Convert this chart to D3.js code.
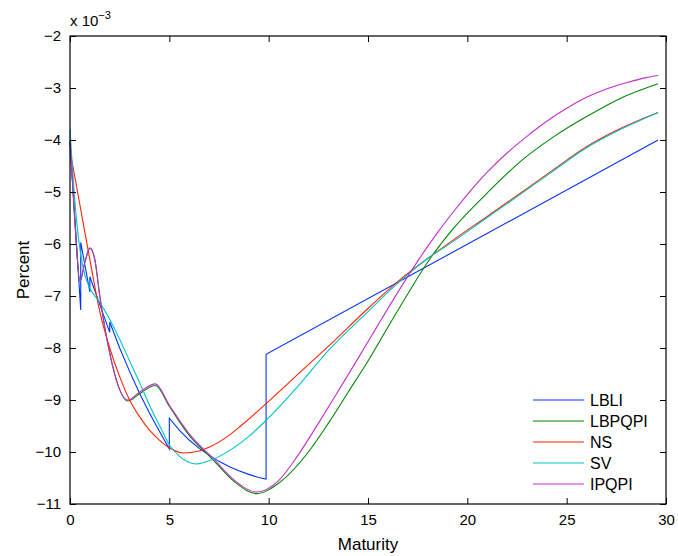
<!DOCTYPE html>
<html lang="en">
<head>
  <meta charset="UTF-8">
  <title>Maturity vs Percent</title>
  <script src="https://d3js.org/d3.v7.min.js"></script>
  <style>
    body {
      margin: 0;
      padding: 0;
      background: #fff;
      font-family: "Liberation Sans", Arial, sans-serif;
    }
    .tick text {
      font-size: 15px;
      fill: #000;
    }
    .lbl {
      font-size: 16px;
      fill: #000;
    }
  </style>
</head>
<body>
  <div id="chart"></div>

  <script>
  // values are in units of 1e-3 (as on the axis)
  const xTicks = [0, 5, 10, 15, 20, 25, 30];
  const yTicks = [-11, -10, -9, -8, -7, -6, -5, -4, -3, -2];

  const lbliT = [0, 0.54, 0.54, 1.0, 1.0, 2.0, 2.0, 2.5, 3.0, 3.5, 4.0, 4.5, 5.0, 5.0, 5.5, 6.0, 6.5, 7.0, 7.5, 8.0, 8.5, 9.0, 9.5, 9.87, 9.87, 29.6];
  const lbliV = [-4.05, -7.27, -5.97, -6.92, -6.63, -7.7, -7.5, -8.0, -8.45, -8.87, -9.25, -9.6, -9.94, -9.35, -9.58, -9.77, -9.93, -10.06, -10.18, -10.28, -10.36, -10.43, -10.49, -10.52, -8.12, -4.0];

  const ipqpiT = [0, 0.25, 0.5, 0.75, 1.0, 1.25, 1.5, 2.0, 2.5, 2.9, 3.5, 4.3, 5.0, 6.0, 7.2, 8.3, 9.4, 10.5, 11.5, 12.5, 13.5, 14.5, 15.5, 16.5, 17.5, 18.5, 19.3, 20, 21, 22, 23, 24, 25, 26, 27, 28, 29, 29.6];
  const ipqpiV = [-4.0, -5.6, -6.72, -6.35, -6.08, -6.3, -7.0, -8.1, -8.8, -9.0, -8.85, -8.69, -9.1, -9.65, -10.12, -10.55, -10.77, -10.55, -10.05, -9.45, -8.83, -8.2, -7.56, -6.93, -6.33, -5.78, -5.38, -5.05, -4.62, -4.25, -3.93, -3.64, -3.39, -3.18, -3.02, -2.9, -2.8, -2.76];

  const lbpqpiT = [0, 0.25, 0.5, 0.75, 1.0, 1.25, 1.5, 2.0, 2.5, 2.9, 3.5, 4.3, 5.0, 6.0, 7.2, 8.3, 9.4, 10.5, 12, 13, 14, 15, 16, 17, 18, 19.3, 21, 22.65, 24.3, 26, 27.7, 29.6];
  const lbpqpiV = [-4.0, -5.6, -6.72, -6.35, -6.08, -6.3, -7.0, -8.1, -8.8, -9.02, -8.88, -8.72, -9.12, -9.68, -10.15, -10.58, -10.8, -10.6, -10.0, -9.45, -8.85, -8.25, -7.6, -6.96, -6.35, -5.7, -5.02, -4.42, -3.95, -3.55, -3.2, -2.92];

  const nsT = [0, 0.5, 1, 1.5, 2, 2.5, 3, 3.5, 4, 4.5, 5, 5.7, 6.5, 7.05, 8, 8.56, 9.9, 11.6, 13, 15, 16.6, 18, 19.3, 21, 22.65, 24.3, 26, 27.7, 29.6];
  const nsV = [-4.2, -5.25, -6.3, -7.3, -8.0, -8.55, -9.0, -9.32, -9.58, -9.77, -9.92, -10.02, -9.98, -9.9, -9.68, -9.51, -9.06, -8.46, -7.97, -7.24, -6.69, -6.28, -5.92, -5.47, -5.03, -4.58, -4.13, -3.78, -3.47];

  const svT = [0, 0.25, 0.5, 0.75, 1, 1.5, 2, 2.5, 3, 3.52, 4, 4.53, 5.03, 5.5, 6.37, 7.2, 8.2, 9, 9.9, 11.6, 13, 15, 16.6, 18, 19.3, 21, 22.65, 24.3, 26, 27.7, 29.6];
  const svV = [-3.8, -5.2, -6.1, -6.6, -6.85, -7.12, -7.45, -7.83, -8.25, -8.68, -9.1, -9.51, -9.88, -10.08, -10.23, -10.14, -9.93, -9.7, -9.38, -8.68, -8.05, -7.3, -6.72, -6.28, -5.95, -5.49, -5.05, -4.6, -4.15, -3.8, -3.47];

  const seriesNames = ["LBLI", "LBPQPI", "NS", "SV", "IPQPI"];
  const seriesColors = ["#0033ff", "#008800", "#ff2200", "#00c4c4", "#c030c8"];

  const series = [
    { name: "LBLI", t: lbliT, v: lbliV, curve: d3.curveLinear },
    { name: "LBPQPI", t: lbpqpiT, v: lbpqpiV, curve: d3.curveMonotoneX },
    { name: "NS", t: nsT, v: nsV, curve: d3.curveMonotoneX },
    { name: "SV", t: svT, v: svV, curve: d3.curveMonotoneX },
    { name: "IPQPI", t: ipqpiT, v: ipqpiV, curve: d3.curveMonotoneX }
  ];

  const width = 678, height = 556;
  const margin = { left: 70, right: 12, top: 36, bottom: 52 };
  const svg = d3.select("#chart").append("svg")
    .attr("width", width).attr("height", height);

  const x = d3.scaleLinear().domain([0, 30]).range([margin.left, width - margin.right]);
  const y = d3.scaleLinear().domain([-11, -2]).range([height - margin.bottom, margin.top]);

  // plot lines (drawn first, box on top)
  const line = d3.line().x(d => x(d[0])).y(d => y(d[1]));
  seriesNames.forEach((nm, k) => {
    const s = series.find(e => e.name === nm);
    const pts = s.t.map((t, i) => [t, s.v[i]]);
    svg.append("path")
      .datum(pts)
      .attr("fill", "none")
      .attr("stroke", seriesColors[k])
      .attr("stroke-width", 1.1)
      .attr("d", line.curve(s.curve));
  });

  // axes, MATLAB style: ticks inward on all four sides
  const tl = 6;
  svg.append("g")
    .attr("transform", `translate(0,${y(-11)})`)
    .call(d3.axisBottom(x).tickValues(xTicks).tickSize(-tl).tickPadding(10).tickFormat(d3.format("d")))
    .call(g => g.select(".domain").remove());
  svg.append("g")
    .attr("transform", `translate(0,${y(-2)})`)
    .call(d3.axisTop(x).tickValues(xTicks).tickSize(-tl).tickFormat(""))
    .call(g => g.select(".domain").remove());
  svg.append("g")
    .attr("transform", `translate(${x(0)},0)`)
    .call(d3.axisLeft(y).tickValues(yTicks).tickSize(-tl).tickPadding(9).tickFormat(d3.format("d")))
    .call(g => g.select(".domain").remove());
  svg.append("g")
    .attr("transform", `translate(${x(30)},0)`)
    .call(d3.axisRight(y).tickValues(yTicks).tickSize(-tl).tickFormat(""))
    .call(g => g.select(".domain").remove());

  svg.selectAll(".tick line").attr("stroke", "#000");

  svg.append("rect")
    .attr("x", x(0)).attr("y", y(-2))
    .attr("width", x(30) - x(0)).attr("height", y(-11) - y(-2))
    .attr("fill", "none").attr("stroke", "#000").attr("stroke-width", 1.2);

  // exponent label
  const expo = svg.append("text").attr("class", "lbl")
    .attr("x", x(0)).attr("y", 26).style("font-size", "15px");
  expo.append("tspan").text("x 10");
  expo.append("tspan").attr("dy", -7).attr("font-size", 11).text("−3");

  // axis titles
  svg.append("text").attr("class", "lbl")
    .attr("x", (x(0) + x(30)) / 2).attr("y", 550)
    .style("font-size", "17px")
    .attr("text-anchor", "middle").text("Maturity");
  svg.append("text").attr("class", "lbl")
    .attr("transform", `translate(29,${(y(-2) + y(-11)) / 2}) rotate(-90)`)
    .style("font-size", "17px")
    .attr("text-anchor", "middle").text("Percent");

  // legend
  const legend = svg.append("g").attr("transform", "translate(533,400)");
  seriesNames.forEach((nm, i) => {
    const row = legend.append("g").attr("transform", `translate(0,${i * 21})`);
    row.append("line")
      .attr("x1", 0).attr("x2", 51).attr("y1", 0).attr("y2", 0)
      .attr("stroke", seriesColors[i]).attr("stroke-width", 1.1);
    row.append("text").attr("class", "lbl")
      .attr("x", 57).attr("y", 6).text(nm);
  });
  </script>
</body>
</html>
